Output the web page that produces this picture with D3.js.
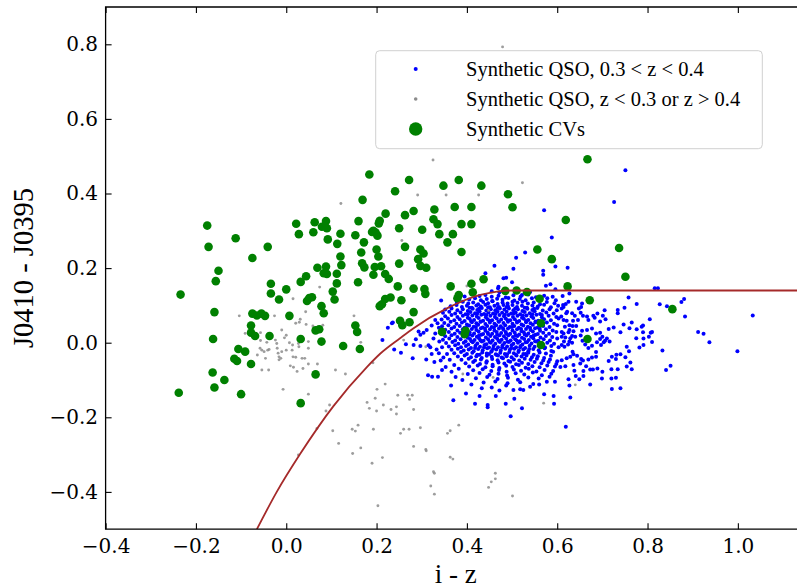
<!DOCTYPE html>
<html>
<head>
<meta charset="utf-8">
<script src="https://cdn.jsdelivr.net/npm/d3@7"></script>
<style>
  body { margin: 0; background: #fff; }
  svg { display: block; }
</style>
</head>
<body>
<svg id="chart" width="797" height="588"></svg>
<script>
// --- data ---
const xDomain = [-0.4, 1.15];
const yDomain = [-0.5, 0.9];
const xTicks = [-0.4, -0.2, 0.0, 0.2, 0.4, 0.6, 0.8, 1.0];
const yTicks = [-0.4, -0.2, 0.0, 0.2, 0.4, 0.6, 0.8];
const xLabel = "i - z";
const yLabel = "J0410 - J0395";
const legendLabels = ["Synthetic QSO, 0.3 < z < 0.4", "Synthetic QSO, z < 0.3 or z > 0.4", "Synthetic CVs"];

// selection boundary (brown curve)
const boundaryX = [-0.065, -0.021, 0.031, 0.1045, 0.178, 0.2085, 0.252, 0.2819, 0.3558, 0.4296, 0.4665, 0.50, 1.2];
const boundaryY = [-0.5, -0.400, -0.298, -0.170, -0.066, -0.029, 0.012, 0.039, 0.092, 0.128, 0.137, 0.140, 0.140];

// synthetic CVs (green)
const cvPoints = [
  [-0.175,0.314],[-0.112,0.280],[-0.172,0.257],[-0.041,0.257],[-0.075,0.227],[-0.150,0.193],[-0.156,0.165],[-0.234,0.129],
  [0.022,0.319],[0.028,0.291],[0.063,0.323],[0.060,0.296],[0.088,0.326],[0.079,0.311],[0.090,0.307],[0.092,0.277],
  [0.069,0.201],[0.088,0.204],[0.083,0.186],[0.090,0.184],[0.044,0.178],[0.032,0.163],[-0.034,0.158],[0.000,0.143],
  [-0.034,0.132],[-0.016,0.116],[0.051,0.120],[0.057,0.122],[0.046,0.112],[0.078,0.098],[0.083,0.079],[-0.159,0.082],
  [-0.075,0.078],[-0.065,0.073],[-0.055,0.078],[-0.047,0.072],[0.007,0.072],[-0.078,0.046],[-0.078,0.027],[-0.069,0.018],
  [-0.037,0.018],[-0.162,0.010],[0.065,0.033],[0.073,0.036],[0.032,0.010],[0.078,0.003],[-0.106,-0.017],[-0.091,-0.024],
  [-0.115,-0.043],[-0.109,-0.049],[-0.078,-0.057],[-0.163,-0.080],[-0.137,-0.100],[0.065,-0.085],[-0.159,-0.120],
  [-0.238,-0.134],[-0.100,-0.138],[0.032,-0.162],
  [0.184,0.451],[0.272,0.436],[0.241,0.406],[0.169,0.383],[0.348,0.421],[0.382,0.436],[0.432,0.421],[0.491,0.398],
  [0.501,0.363],[0.373,0.364],[0.410,0.364],[0.328,0.357],[0.282,0.353],[0.263,0.342],[0.220,0.346],[0.207,0.327],
  [0.205,0.320],[0.160,0.326],[0.326,0.331],[0.335,0.318],[0.388,0.318],[0.410,0.318],[0.250,0.307],[0.301,0.303],
  [0.193,0.300],[0.198,0.295],[0.190,0.297],[0.153,0.288],[0.120,0.292],[0.202,0.287],[0.339,0.291],[0.369,0.291],
  [0.172,0.269],[0.113,0.265],[0.357,0.269],[0.263,0.257],[0.200,0.250],[0.297,0.250],[0.304,0.239],[0.166,0.242],
  [0.388,0.243],[0.204,0.231],[0.120,0.231],[0.292,0.224],[0.250,0.212],[0.168,0.213],[0.173,0.202],[0.122,0.208],
  [0.196,0.203],[0.210,0.205],[0.297,0.206],[0.310,0.201],[0.112,0.185],[0.193,0.182],[0.219,0.184],[0.227,0.171],
  [0.159,0.162],[0.112,0.159],[0.247,0.151],[0.282,0.145],[0.306,0.144],[0.364,0.151],[0.410,0.158],[0.437,0.170],
  [0.103,0.137],
  [0.667,0.492],[0.619,0.329],[0.737,0.254],[0.556,0.250],[0.588,0.224],[0.751,0.177],[0.623,0.151],[0.510,0.140],
  [0.533,0.136],[0.382,0.128],[0.379,0.119],[0.485,0.139],[0.672,0.114],[0.308,0.131],[0.413,0.135],[0.561,0.118],
  [0.219,0.117],[0.231,0.121],[0.212,0.103],[0.255,0.114],[0.282,0.082],[0.252,0.059],[0.257,0.047],[0.273,0.055],
  [0.345,0.029],[0.397,0.032],[0.395,0.023],[0.564,0.052],[0.564,-0.006],[0.855,0.090],[0.667,0.010],[0.107,0.116],
  [0.207,0.098],[0.153,0.046],[0.157,0.029],[0.126,-0.009],[0.163,-0.017]
];

// synthetic QSOs outside 0.3 < z < 0.4 (grey)
const qsoOther = [
  [0.015,0.118],[-0.104,0.072],[-0.026,0.072],[0.043,0.083],[0.031,0.063],[0.029,0.055],[0.021,0.052],[0.044,0.049],
  [0.059,0.045],[0.081,0.047],[-0.091,0.025],[-0.057,0.027],[-0.010,0.034],[0.000,0.020],[-0.004,0.013],[-0.057,0.006],
  [-0.043,0.001],[-0.024,0.007],[-0.021,-0.002],[0.007,0.000],[0.014,-0.006],[0.027,-0.002],[0.049,0.003],[-0.058,-0.015],
  [-0.054,-0.020],[-0.049,-0.024],[-0.041,-0.020],[-0.038,-0.018],[-0.020,-0.015],[-0.018,-0.028],[-0.010,-0.024],
  [0.000,-0.020],[0.013,-0.020],[0.028,-0.011],[0.049,-0.015],[-0.064,-0.033],[-0.046,-0.042],[-0.016,-0.038],
  [-0.016,-0.046],[-0.012,-0.042],[0.015,-0.038],[0.021,-0.039],[0.035,-0.042],[0.041,-0.042],[0.049,-0.057],
  [0.069,-0.057],[0.009,-0.062],[0.016,-0.066],[0.024,-0.077],[0.037,-0.069],[-0.054,-0.073],[-0.039,-0.073],
  [0.060,-0.089],[-0.007,-0.125],[0.049,-0.138],[0.150,0.072],[0.165,0.001],[0.109,-0.073],[0.131,-0.084],
  [0.096,-0.167],[0.088,-0.183],[0.068,-0.230],[0.027,-0.301],[0.103,-0.236],[0.116,-0.270],[0.147,-0.297],
  [0.165,-0.282],[0.146,-0.232],[0.153,-0.237],[0.159,-0.221],[0.193,-0.232],[0.190,-0.323],[0.203,-0.437],
  [0.213,-0.308],[0.179,-0.160],[0.184,-0.176],[0.200,-0.183],[0.197,-0.149],[0.201,-0.125],[0.219,-0.111],
  [0.215,-0.167],[0.232,-0.179],[0.244,-0.172],[0.244,-0.191],[0.247,-0.141],[0.269,-0.141],[0.279,-0.141],
  [0.273,-0.152],[0.282,-0.179],[0.260,-0.232],[0.272,-0.232],[0.253,-0.243],[0.297,-0.228],[0.282,-0.278],
  [0.309,-0.286],[0.310,-0.290],[0.326,-0.346],[0.328,-0.350],[0.320,-0.384],[0.328,-0.406],[0.357,-0.243],
  [0.363,-0.236],[0.382,-0.221],[0.363,-0.307],[0.369,-0.312],[0.448,-0.388],[0.454,-0.373],[0.463,-0.365],
  [0.463,-0.350],[0.501,-0.411],[0.400,0.152],[0.448,0.086],[0.260,0.007],[0.309,-0.011],[0.391,-0.084],
  [0.458,-0.093],[0.640,-0.113],[0.570,-0.162],[0.479,0.793],[0.325,0.490],[0.291,0.396],[0.354,0.396],
  [0.426,0.396],[0.523,0.429],[0.256,0.274],[0.121,0.373],[0.074,0.149],[0.192,-0.054]
];

// synthetic QSOs with 0.3 < z < 0.4 (blue): dense core, estimated row by row
const qsoCore = [
  [0.428,0.125],[0.441,0.128],[0.455,0.123],[0.470,0.126],[0.486,0.121],[0.503,0.127],[0.519,0.124],[0.536,0.129],[0.553,0.122],[0.571,0.126],[0.590,0.123],
  [0.405,0.116],[0.418,0.119],[0.431,0.114],[0.444,0.117],[0.456,0.112],[0.467,0.118],[0.479,0.115],[0.492,0.120],[0.505,0.113],[0.517,0.117],[0.530,0.114],[0.544,0.119],[0.560,0.116],[0.578,0.119],[0.597,0.114],
  [0.378,0.107],[0.391,0.110],[0.403,0.105],[0.414,0.108],[0.425,0.103],[0.436,0.109],[0.447,0.106],[0.457,0.111],[0.468,0.104],[0.479,0.108],[0.490,0.105],[0.501,0.110],[0.512,0.107],[0.523,0.110],[0.535,0.105],[0.548,0.108],[0.562,0.103],[0.577,0.109],[0.594,0.106],
  [0.364,0.098],[0.377,0.101],[0.389,0.096],[0.400,0.099],[0.411,0.094],[0.421,0.100],[0.431,0.097],[0.441,0.102],[0.451,0.095],[0.461,0.099],[0.471,0.096],[0.481,0.101],[0.491,0.098],[0.501,0.101],[0.511,0.096],[0.522,0.099],[0.533,0.094],[0.545,0.100],[0.557,0.097],[0.571,0.102],[0.586,0.095],[0.602,0.099],
  [0.352,0.089],[0.366,0.092],[0.379,0.087],[0.391,0.090],[0.402,0.085],[0.413,0.091],[0.423,0.088],[0.433,0.093],[0.443,0.086],[0.453,0.090],[0.463,0.087],[0.473,0.092],[0.483,0.089],[0.493,0.092],[0.503,0.087],[0.513,0.090],[0.523,0.085],[0.534,0.091],[0.545,0.088],[0.556,0.093],[0.568,0.086],[0.583,0.090],[0.599,0.087],
  [0.347,0.080],[0.361,0.083],[0.374,0.078],[0.386,0.081],[0.397,0.076],[0.408,0.082],[0.418,0.079],[0.428,0.084],[0.438,0.077],[0.448,0.081],[0.458,0.078],[0.468,0.083],[0.478,0.080],[0.488,0.083],[0.498,0.078],[0.508,0.081],[0.518,0.076],[0.528,0.082],[0.539,0.079],[0.550,0.084],[0.562,0.077],[0.576,0.081],[0.592,0.078],
  [0.352,0.071],[0.366,0.074],[0.379,0.069],[0.391,0.072],[0.402,0.067],[0.412,0.073],[0.422,0.070],[0.432,0.075],[0.442,0.068],[0.452,0.072],[0.462,0.069],[0.472,0.074],[0.482,0.071],[0.492,0.074],[0.502,0.069],[0.512,0.072],[0.522,0.067],[0.532,0.073],[0.543,0.070],[0.554,0.075],[0.566,0.068],[0.581,0.072],[0.598,0.069],
  [0.344,0.062],[0.358,0.065],[0.372,0.060],[0.384,0.063],[0.395,0.058],[0.406,0.064],[0.416,0.061],[0.426,0.066],[0.436,0.059],[0.446,0.063],[0.456,0.060],[0.466,0.065],[0.476,0.062],[0.486,0.065],[0.496,0.060],[0.506,0.063],[0.516,0.058],[0.526,0.064],[0.536,0.061],[0.547,0.066],[0.558,0.059],[0.571,0.063],[0.586,0.060],[0.603,0.065],
  [0.350,0.053],[0.364,0.056],[0.377,0.051],[0.389,0.054],[0.400,0.049],[0.411,0.055],[0.421,0.052],[0.431,0.057],[0.441,0.050],[0.451,0.054],[0.461,0.051],[0.471,0.056],[0.481,0.053],[0.491,0.056],[0.501,0.051],[0.511,0.054],[0.521,0.049],[0.531,0.055],[0.541,0.052],[0.552,0.057],[0.564,0.050],[0.577,0.054],[0.593,0.051],
  [0.345,0.044],[0.359,0.047],[0.372,0.042],[0.384,0.045],[0.395,0.040],[0.405,0.046],[0.415,0.043],[0.425,0.048],[0.435,0.041],[0.445,0.045],[0.455,0.042],[0.465,0.047],[0.475,0.044],[0.485,0.047],[0.495,0.042],[0.505,0.045],[0.515,0.040],[0.525,0.046],[0.535,0.043],[0.546,0.048],[0.557,0.041],[0.569,0.045],[0.583,0.042],[0.600,0.047],
  [0.352,0.035],[0.366,0.038],[0.379,0.033],[0.391,0.036],[0.401,0.031],[0.411,0.037],[0.421,0.034],[0.431,0.039],[0.441,0.032],[0.451,0.036],[0.461,0.033],[0.471,0.038],[0.481,0.035],[0.491,0.038],[0.501,0.033],[0.511,0.036],[0.521,0.031],[0.531,0.037],[0.541,0.034],[0.551,0.039],[0.562,0.032],[0.575,0.036],[0.590,0.033],
  [0.346,0.026],[0.360,0.029],[0.373,0.024],[0.385,0.027],[0.396,0.022],[0.406,0.028],[0.416,0.025],[0.426,0.030],[0.436,0.023],[0.446,0.027],[0.456,0.024],[0.466,0.029],[0.476,0.026],[0.486,0.029],[0.496,0.024],[0.506,0.027],[0.516,0.022],[0.526,0.028],[0.536,0.025],[0.546,0.030],[0.557,0.023],[0.569,0.027],[0.582,0.024],[0.598,0.029],
  [0.352,0.017],[0.366,0.020],[0.379,0.015],[0.391,0.018],[0.402,0.013],[0.412,0.019],[0.422,0.016],[0.432,0.021],[0.442,0.014],[0.452,0.018],[0.462,0.015],[0.472,0.020],[0.482,0.017],[0.492,0.020],[0.502,0.015],[0.512,0.018],[0.522,0.013],[0.532,0.019],[0.542,0.016],[0.552,0.021],[0.563,0.014],[0.575,0.018],[0.589,0.015],
  [0.347,0.008],[0.361,0.011],[0.374,0.006],[0.386,0.009],[0.397,0.004],[0.407,0.010],[0.417,0.007],[0.427,0.012],[0.437,0.005],[0.447,0.009],[0.457,0.006],[0.467,0.011],[0.477,0.008],[0.487,0.011],[0.497,0.006],[0.507,0.009],[0.517,0.004],[0.527,0.010],[0.537,0.007],[0.547,0.012],[0.558,0.005],[0.570,0.009],[0.584,0.006],[0.600,0.011],
  [0.354,-0.001],[0.368,0.002],[0.381,-0.003],[0.393,0.000],[0.403,-0.005],[0.413,0.001],[0.423,-0.002],[0.433,0.003],[0.443,-0.004],[0.453,0.000],[0.463,-0.003],[0.473,0.002],[0.483,-0.001],[0.493,0.002],[0.503,-0.003],[0.513,0.000],[0.523,-0.005],[0.533,0.001],[0.543,-0.002],[0.554,0.003],[0.565,-0.004],[0.578,0.000],[0.593,-0.003],
  [0.360,-0.010],[0.374,-0.007],[0.387,-0.012],[0.398,-0.009],[0.409,-0.014],[0.419,-0.008],[0.429,-0.011],[0.439,-0.006],[0.449,-0.013],[0.459,-0.009],[0.469,-0.012],[0.479,-0.007],[0.489,-0.010],[0.499,-0.007],[0.509,-0.012],[0.519,-0.009],[0.529,-0.014],[0.539,-0.008],[0.550,-0.011],[0.561,-0.006],[0.573,-0.013],[0.587,-0.009],[0.603,-0.012],
  [0.366,-0.019],[0.380,-0.016],[0.393,-0.021],[0.404,-0.018],[0.415,-0.023],[0.425,-0.017],[0.435,-0.020],[0.445,-0.015],[0.455,-0.022],[0.465,-0.018],[0.475,-0.021],[0.485,-0.016],[0.495,-0.019],[0.505,-0.016],[0.515,-0.021],[0.525,-0.018],[0.536,-0.023],[0.547,-0.017],[0.559,-0.020],[0.572,-0.015],[0.587,-0.022],
  [0.372,-0.028],[0.387,-0.025],[0.400,-0.030],[0.412,-0.027],[0.423,-0.032],[0.434,-0.026],[0.444,-0.029],[0.454,-0.024],[0.464,-0.031],[0.474,-0.027],[0.484,-0.030],[0.494,-0.025],[0.504,-0.028],[0.514,-0.025],[0.525,-0.030],[0.536,-0.027],[0.548,-0.032],[0.561,-0.026],[0.575,-0.029],[0.591,-0.024],
  [0.380,-0.037],[0.395,-0.034],[0.409,-0.039],[0.421,-0.036],[0.433,-0.041],[0.444,-0.035],[0.455,-0.038],[0.466,-0.033],[0.477,-0.040],[0.488,-0.036],[0.499,-0.039],[0.510,-0.034],[0.521,-0.037],[0.532,-0.034],[0.544,-0.039],[0.557,-0.036],[0.571,-0.041],[0.586,-0.035],
  [0.388,-0.046],[0.404,-0.043],[0.418,-0.048],[0.431,-0.045],[0.444,-0.050],[0.456,-0.044],[0.468,-0.047],[0.480,-0.042],[0.492,-0.049],[0.504,-0.045],[0.516,-0.048],[0.528,-0.043],[0.541,-0.046],[0.555,-0.043],[0.569,-0.048],[0.584,-0.045],[0.600,-0.050],
  [0.397,-0.055],[0.414,-0.052],[0.429,-0.057],[0.443,-0.054],[0.457,-0.059],[0.470,-0.053],[0.483,-0.056],[0.496,-0.051],[0.509,-0.058],[0.522,-0.054],[0.536,-0.057],[0.550,-0.052],[0.565,-0.055],[0.581,-0.052],[0.598,-0.057],
  [0.405,-0.064],[0.424,-0.061],[0.441,-0.066],[0.457,-0.063],[0.472,-0.068],[0.487,-0.062],[0.501,-0.065],[0.515,-0.060],[0.530,-0.067],[0.545,-0.063],[0.561,-0.066],[0.578,-0.061],[0.595,-0.064],
  [0.414,-0.074],[0.435,-0.071],[0.454,-0.076],[0.471,-0.073],[0.488,-0.078],[0.504,-0.072],[0.520,-0.075],[0.537,-0.070],[0.554,-0.077],[0.572,-0.073],[0.591,-0.076],
  [0.402,-0.084],[0.428,-0.081],[0.450,-0.086],[0.470,-0.083],[0.489,-0.088],[0.508,-0.082],[0.527,-0.085],[0.546,-0.080],[0.566,-0.087],[0.587,-0.083],
  [0.420,-0.095],[0.445,-0.092],[0.468,-0.097],[0.491,-0.094],[0.513,-0.099],[0.536,-0.093],[0.559,-0.096],[0.583,-0.091],
  [0.437,-0.107],[0.463,-0.104],[0.490,-0.109],[0.518,-0.106],[0.547,-0.111],[0.577,-0.105]
];

// extra points filling the gaps of the densest part of the blob
const qsoDense = [
  [0.406,0.094],[0.427,0.092],[0.447,0.095],[0.468,0.093],[0.488,0.096],[0.507,0.092],[0.528,0.094],[0.549,0.091],
  [0.402,0.076],[0.423,0.078],[0.443,0.074],[0.463,0.077],[0.484,0.075],[0.504,0.078],[0.524,0.073],[0.545,0.076],[0.566,0.074],
  [0.409,0.058],[0.430,0.056],[0.450,0.059],[0.470,0.057],[0.490,0.060],[0.511,0.056],[0.531,0.058],[0.552,0.055],
  [0.399,0.040],[0.420,0.042],[0.440,0.038],[0.460,0.041],[0.480,0.039],[0.500,0.042],[0.520,0.037],[0.540,0.040],[0.561,0.038],
  [0.406,0.022],[0.427,0.020],[0.447,0.023],[0.467,0.021],[0.487,0.024],[0.508,0.020],[0.528,0.022],[0.548,0.019],
  [0.410,0.004],[0.430,0.006],[0.450,0.002],[0.470,0.005],[0.490,0.003],[0.510,0.006],[0.530,0.001],[0.551,0.004],
  [0.418,-0.014],[0.438,-0.012],[0.458,-0.016],[0.478,-0.013],[0.498,-0.015],[0.518,-0.012],[0.538,-0.017],
  [0.428,-0.032],[0.449,-0.030],[0.469,-0.034],[0.489,-0.031],[0.509,-0.033],[0.530,-0.030]
];

const qsoUpper = [
  [0.751,0.462],[0.726,0.377],[0.571,0.355],[0.588,0.282],[0.529,0.242],[0.509,0.228],[0.596,0.204],[0.623,0.201],
  [0.461,0.206],[0.503,0.198],[0.569,0.193],[0.569,0.182],[0.441,0.186],[0.481,0.173],[0.487,0.174],[0.500,0.162],
  [0.470,0.150],[0.469,0.146],[0.575,0.153],[0.585,0.157],[0.596,0.143],[0.816,0.146],[0.823,0.146],[0.758,0.121],
  [0.627,0.132],[0.881,0.117],[0.472,0.135],[0.522,0.128],[0.480,0.139],[0.455,0.138],[0.540,0.136],[0.612,0.125],
  [0.343,0.113],[0.395,0.124],[0.412,0.131],[0.380,0.118]
];

const qsoLeft = [
  [0.330,0.061],[0.234,0.052],[0.225,0.040],[0.236,0.054],[0.213,0.007],[0.239,-0.018],[0.254,-0.027],[0.265,-0.004],
  [0.280,-0.042],[0.282,-0.006],[0.287,0.009],[0.293,0.030],[0.297,0.021],[0.304,0.027],[0.311,0.034],[0.319,-0.012],
  [0.315,-0.007],[0.330,0.025],[0.339,0.003],[0.297,-0.009],[0.322,0.046],[0.335,0.052],[0.326,0.011],[0.333,-0.018],
  [0.322,-0.030],[0.338,-0.028],[0.310,-0.045],[0.328,-0.052],[0.314,-0.087],[0.323,-0.091],[0.336,-0.091],[0.348,-0.040],
  [0.342,-0.048],[0.362,-0.046],[0.353,-0.065],[0.345,-0.073],[0.372,-0.060],[0.366,-0.078],[0.382,-0.070],[0.375,-0.092],
  [0.390,-0.100],[0.356,-0.030],[0.345,-0.012],[0.338,0.040]
];

const qsoLower = [
  [0.365,-0.115],[0.398,-0.136],[0.370,-0.154],[0.418,-0.164],[0.428,-0.143],[0.446,-0.167],[0.446,-0.173],[0.464,-0.143],
  [0.486,-0.164],[0.497,-0.197],[0.522,-0.176],[0.571,-0.138],[0.592,-0.143],[0.593,-0.164],[0.518,-0.125],[0.525,-0.127],
  [0.503,-0.127],[0.487,-0.115],[0.455,-0.120],[0.540,-0.118],[0.560,-0.112],[0.472,-0.128],[0.433,-0.122],[0.410,-0.112],
  [0.595,-0.105],[0.505,-0.150]
];

const qsoRight = [
  [0.776,0.104],[0.827,0.103],[0.843,0.098],[0.875,0.109],[0.883,0.070],[1.033,0.073],[0.912,0.029],[0.924,0.024],
  [0.937,0.001],[0.999,-0.023],[0.833,-0.021],[0.851,-0.062],[0.841,-0.073],[0.805,0.063],[0.807,0.027],[0.810,0.029],
  [0.803,0.016],[0.810,0.002],[0.791,-0.006],[0.782,-0.013],[0.790,0.028],[0.787,0.043],[0.790,0.046],[0.776,0.036],
  [0.765,0.054],[0.760,0.039],[0.747,0.049],[0.740,0.028],[0.725,0.041],[0.714,0.037],[0.749,0.094],[0.734,0.088],
  [0.734,0.079],[0.705,0.087],[0.689,0.078],[0.701,0.072],[0.707,0.063],[0.695,0.057],[0.680,0.072],[0.683,0.067],
  [0.666,0.070],[0.669,0.061],[0.655,0.105],[0.653,0.096],[0.642,0.110],[0.648,0.092],[0.652,0.080],[0.657,0.072],
  [0.639,0.072],[0.633,0.079],[0.625,0.110],[0.619,0.104],[0.613,0.101],[0.614,0.096],[0.622,0.083],[0.620,0.079],
  [0.610,0.092],[0.609,0.070],[0.614,0.061],[0.621,0.059],[0.635,0.059],[0.646,0.061],[0.627,0.047],[0.634,0.045],
  [0.642,0.045],[0.636,0.031],[0.627,0.034],[0.617,0.043],[0.610,0.029],[0.614,0.025],[0.625,0.028],[0.633,0.018],
  [0.629,0.012],[0.640,0.016],[0.618,0.014],[0.610,0.016],[0.627,0.003],[0.633,0.000],[0.615,0.003],[0.610,-0.006],
  [0.624,-0.005],[0.616,-0.011],[0.655,0.032],[0.652,0.019],[0.666,0.034],[0.677,0.038],[0.686,0.025],[0.695,0.027],
  [0.700,0.016],[0.710,0.011],[0.716,0.003],[0.706,0.005],[0.695,0.010],[0.688,0.001],[0.697,-0.006],[0.703,0.001],
  [0.677,-0.008],[0.656,0.005],[0.662,-0.005],[0.669,-0.014],[0.775,0.012],[0.791,0.011],[0.754,-0.011],[0.759,-0.023],
  [0.740,-0.031],[0.730,-0.044],[0.721,-0.038],[0.731,-0.032],[0.714,-0.049],[0.686,-0.025],[0.686,-0.038],[0.677,-0.040],
  [0.669,-0.045],[0.657,-0.048],[0.651,-0.056],[0.653,-0.044],[0.644,-0.035],[0.634,-0.024],[0.636,-0.031],[0.629,-0.038],
  [0.621,-0.042],[0.610,-0.047],[0.618,-0.063],[0.607,-0.065],[0.636,-0.060],[0.638,-0.075],[0.658,-0.076],[0.664,-0.063],
  [0.673,-0.072],[0.679,-0.072],[0.689,-0.069],[0.700,-0.078],[0.699,-0.096],[0.720,-0.071],[0.734,-0.071],[0.762,-0.053],
  [0.754,-0.064],[0.765,-0.071],[0.730,-0.094],[0.720,-0.096],[0.658,-0.089],[0.649,-0.098],[0.641,-0.089],[0.625,-0.098],
  [0.627,-0.115],[0.673,-0.112],[0.721,-0.124],[0.740,-0.122],[0.629,-0.147],[0.619,-0.225],[0.751,-0.039]
];

const qsoInRange = [...qsoCore, ...qsoDense, ...qsoUpper, ...qsoLeft, ...qsoLower, ...qsoRight];

// --- setup ---
const width = 797, height = 588;
const plot = { left: 105.6, right: 805.6, top: 7.0, bottom: 529.2 };

const svg = d3.select("#chart");
svg.append("rect").attr("width", width).attr("height", height).attr("fill", "#fff");

const x = d3.scaleLinear().domain(xDomain).range([plot.left, plot.right]);
const y = d3.scaleLinear().domain(yDomain).range([plot.bottom, plot.top]);

svg.append("defs").append("clipPath").attr("id", "plot-clip")
  .append("rect")
  .attr("x", plot.left).attr("y", plot.top)
  .attr("width", plot.right - plot.left).attr("height", plot.bottom - plot.top);

const marks = svg.append("g").attr("clip-path", "url(#plot-clip)");

// --- scatter layers (blue, grey, green), then the curve on top ---
marks.append("g").selectAll("circle")
  .data(qsoInRange)
  .join("circle")
  .attr("cx", d => x(d[0]))
  .attr("cy", d => y(d[1]))
  .attr("r", 2.0)
  .attr("fill", "#0000ff");

marks.append("g").selectAll("circle")
  .data(qsoOther)
  .join("circle")
  .attr("cx", d => x(d[0]))
  .attr("cy", d => y(d[1]))
  .attr("r", 1.45)
  .attr("fill", "#8c8c8c")
  .attr("fill-opacity", 0.85);

marks.append("g").selectAll("circle")
  .data(cvPoints)
  .join("circle")
  .attr("cx", d => x(d[0]))
  .attr("cy", d => y(d[1]))
  .attr("r", 4.3)
  .attr("fill", "#008000");

const boundary = boundaryX.map((v, i) => [v, boundaryY[i]]);
marks.append("path")
  .datum(boundary)
  .attr("fill", "none")
  .attr("stroke", "#a52a2a")
  .attr("stroke-width", 1.8)
  .attr("d", d3.line().x(d => x(d[0])).y(d => y(d[1])).curve(d3.curveMonotoneX));

// --- axes (ticks pointing in) ---
const tickFont = "'DejaVu Serif', serif";
const fmt = d3.format(".1f");

const xAxis = svg.append("g")
  .attr("transform", `translate(0,${plot.bottom})`)
  .call(d3.axisBottom(x).tickValues(xTicks).tickSize(-6).tickPadding(10).tickFormat(fmt))
  .attr("font-family", tickFont).attr("font-size", 20);
xAxis.select(".domain").remove();

const yAxis = svg.append("g")
  .attr("transform", `translate(${plot.left},0)`)
  .call(d3.axisLeft(y).tickValues(yTicks).tickSize(-6).tickPadding(7.5).tickFormat(fmt))
  .attr("font-family", tickFont).attr("font-size", 20);
yAxis.select(".domain").remove();

const topAxis = svg.append("g")
  .attr("transform", `translate(0,${plot.top})`)
  .call(d3.axisTop(x).tickValues(xTicks).tickSize(-6).tickFormat(""));
topAxis.select(".domain").remove();

svg.selectAll(".tick line").attr("stroke", "#000").attr("stroke-width", 1.1);
svg.selectAll(".tick text").attr("fill", "#000");

// spines
svg.append("path")
  .attr("d", `M${plot.right},${plot.top}H${plot.left}V${plot.bottom}H${plot.right}`)
  .attr("fill", "none")
  .attr("stroke", "#000")
  .attr("stroke-width", 1.3);

// axis titles
const labelFont = "'Liberation Serif', 'Times New Roman', serif";
svg.append("text")
  .attr("x", 455.7).attr("y", 583)
  .attr("text-anchor", "middle")
  .attr("font-family", labelFont).attr("font-size", 27)
  .text(xLabel);

svg.append("text")
  .attr("transform", `translate(33,268) rotate(-90)`)
  .attr("text-anchor", "middle")
  .attr("font-family", labelFont).attr("font-size", 28.5)
  .text(yLabel);

// --- legend ---
const legend = svg.append("g").attr("transform", "translate(375.7,50.7)");
legend.append("rect")
  .attr("width", 386.6).attr("height", 98)
  .attr("rx", 4)
  .attr("fill", "#fff").attr("fill-opacity", 0.8)
  .attr("stroke", "#d0d0d0").attr("stroke-width", 1);

const legendMarks = [
  { r: 2.0, fill: "#0000ff" },
  { r: 1.8, fill: "#8c8c8c" },
  { r: 6.7, fill: "#008000" }
];
legendLabels.forEach((label, i) => {
  const cy = 18.3 + i * 30;
  legend.append("circle").attr("cx", 40).attr("cy", cy)
    .attr("r", legendMarks[i].r).attr("fill", legendMarks[i].fill);
  legend.append("text")
    .attr("x", 90.3).attr("y", cy + 7)
    .attr("font-family", labelFont).attr("font-size", 20.5)
    .attr("fill", "#000")
    .text(label);
});
</script>
